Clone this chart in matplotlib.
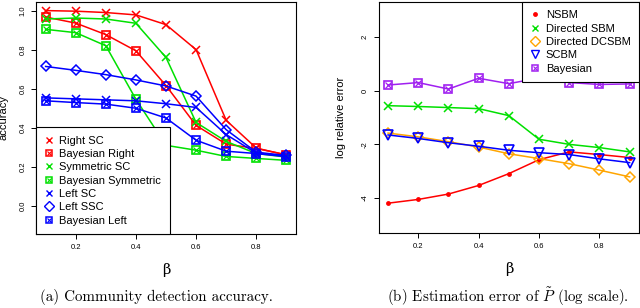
import matplotlib
matplotlib.use("Agg")
import matplotlib.pyplot as plt
from matplotlib.lines import Line2D

plt.rcParams['font.family'] = ['Liberation Sans', 'DejaVu Sans']
plt.rcParams['axes.unicode_minus'] = False
plt.rcParams['mathtext.fontset'] = 'cm'

beta = [0.1, 0.2, 0.3, 0.4, 0.5, 0.6, 0.7, 0.8, 0.9]

# (a) accuracy
right_sc = [1.0, 0.997, 0.99, 0.978, 0.928, 0.80, 0.438, 0.296, 0.26]
bayes_right = [0.967, 0.936, 0.877, 0.794, 0.616, 0.412, 0.316, 0.294, 0.262]
sym_sc = [0.957, 0.962, 0.957, 0.935, 0.76, 0.427, 0.33, 0.268, 0.25]
bayes_sym = [0.904, 0.887, 0.82, 0.546, 0.31, 0.285, 0.253, 0.243, 0.233]
left_sc = [0.553, 0.548, 0.543, 0.538, 0.523, 0.504, 0.365, 0.27, 0.255]
left_ssc = [0.714, 0.694, 0.672, 0.645, 0.614, 0.562, 0.39, 0.275, 0.258]
bayes_left = [0.538, 0.529, 0.521, 0.50, 0.45, 0.336, 0.28, 0.268, 0.252]

# (b) log relative error
nsbm = [-4.19, -4.05, -3.85, -3.53, -3.09, -2.57, -2.28, -2.38, -2.49]
dir_sbm = [-0.56, -0.59, -0.63, -0.67, -0.93, -1.81, -2.0, -2.12, -2.28]
dir_dcsbm = [-1.58, -1.72, -1.90, -2.10, -2.35, -2.53, -2.72, -2.96, -3.21]
scbm = [-1.65, -1.78, -1.94, -2.07, -2.22, -2.31, -2.38, -2.54, -2.68]
bayesian = [0.21, 0.30, 0.06, 0.46, 0.26, 0.47, 0.30, 0.23, 0.25]

RED, GREEN, BLUE = '#ff0000', '#00e000', '#0000ff'
ORANGE, PURPLE = '#ffa500', '#a020f0'
LW = 1.1


def xline(ax, y, c):
    ax.plot(beta, y, color=c, lw=LW, marker='x', ms=6, mew=1.1)
    return Line2D([], [], ls='none', color=c, marker='x', ms=5, mew=1)


def boxx(ax, y, c):
    ax.plot(beta, y, color=c, lw=LW, marker='s', ms=6, mfc='none', mew=1.2)
    ax.plot(beta, y, ls='none', color=c, marker='x', ms=4.2, mew=0.9)
    h1 = Line2D([], [], ls='none', color=c, marker='s', ms=5, mfc='none', mew=1.1)
    h2 = Line2D([], [], ls='none', color=c, marker='x', ms=3.5, mew=0.8)
    return (h1, h2)


def style(ax):
    for s in ax.spines.values():
        s.set_linewidth(0.8)
    ax.tick_params(labelsize=5.5, length=3.5, width=0.7, pad=3.5)
    for t in ax.get_yticklabels():
        t.set_rotation(90)
        t.set_va('center')


def legend(ax, handles, labels, loc):
    leg = ax.legend(handles, labels, loc=loc, borderaxespad=0, fontsize=8,
                    frameon=True, fancybox=False, edgecolor='black', framealpha=1,
                    labelspacing=0.3, handlelength=0.8, handletextpad=0.55,
                    borderpad=0.75)
    leg.get_frame().set_linewidth(0.8)


fig = plt.figure(figsize=(6.4, 3.08), dpi=100)
ax1 = fig.add_axes([0.05625, 0.2403, 0.40625, 0.7532])
ax2 = fig.add_axes([0.5917, 0.2435, 0.4067, 0.75])

handles = [
    xline(ax1, right_sc, RED),
    boxx(ax1, bayes_right, RED),
    xline(ax1, sym_sc, GREEN),
    boxx(ax1, bayes_sym, GREEN),
    xline(ax1, left_sc, BLUE),
]
ax1.plot(beta, left_ssc, color=BLUE, lw=LW, marker='D', ms=5.5, mfc='none', mew=1.1)
handles.append(Line2D([], [], ls='none', color=BLUE, marker='D', ms=5, mfc='none', mew=1))
handles.append(boxx(ax1, bayes_left, BLUE))
labels1 = ['Right SC', 'Bayesian Right', 'Symmetric SC', 'Bayesian Symmetric',
           'Left SC', 'Left SSC', 'Bayesian Left']

ax1.set_xlim(0.068, 0.932)
ax1.set_ylim(-0.144, 1.044)
ax1.set_xticks([0.2, 0.4, 0.6, 0.8])
ax1.set_yticks([0.0, 0.2, 0.4, 0.6, 0.8, 1.0])
style(ax1)
ax1.set_ylabel('accuracy', fontsize=8)
ax1.yaxis.set_label_coords(-0.105, 0.5)
ax1.set_xlabel('β', fontsize=10.5, family='DejaVu Serif')
ax1.xaxis.set_label_coords(0.5, -0.125)
legend(ax1, handles, labels1, 'lower left')

ax2.plot(beta, nsbm, color=RED, lw=LW, marker='o', ms=3.5, mew=0)
ax2.plot(beta, dir_sbm, color=GREEN, lw=LW, marker='x', ms=6, mew=1.1)
ax2.plot(beta, dir_dcsbm, color=ORANGE, lw=LW, marker='D', ms=5.5, mfc='none', mew=1.1)
ax2.plot(beta, scbm, color=BLUE, lw=LW, marker='v', ms=6.5, mfc='none', mew=1.2)
ax2.plot(beta, bayesian, color=PURPLE, lw=LW, marker='s', ms=6, mfc='none', mew=1.2)
ax2.plot(beta, bayesian, ls='none', color=PURPLE, marker='x', ms=4.2, mew=0.9)
handles2 = [
    Line2D([], [], ls='none', color=RED, marker='o', ms=3.5, mew=0),
    Line2D([], [], ls='none', color=GREEN, marker='x', ms=5, mew=1),
    Line2D([], [], ls='none', color=ORANGE, marker='D', ms=5, mfc='none', mew=1),
    Line2D([], [], ls='none', color=BLUE, marker='v', ms=5.5, mfc='none', mew=1),
    (Line2D([], [], ls='none', color=PURPLE, marker='s', ms=5, mfc='none', mew=1.1),
     Line2D([], [], ls='none', color=PURPLE, marker='x', ms=3.5, mew=0.8)),
]
labels2 = ['NSBM', 'Directed SBM', 'Directed DCSBM', 'SCBM', 'Bayesian']

ax2.set_xlim(0.069, 0.931)
ax2.set_ylim(-5.3, 3.3)
ax2.set_xticks([0.2, 0.4, 0.6, 0.8])
ax2.set_yticks([-4, -2, 0, 2])
style(ax2)
ax2.set_ylabel('log relative error', fontsize=8)
ax2.yaxis.set_label_coords(-0.125, 0.5)
ax2.set_xlabel('β', fontsize=10.5, family='DejaVu Serif')
ax2.xaxis.set_label_coords(0.5, -0.125)
legend(ax2, handles2, labels2, 'upper right')

fig.text(0.245, 0.037, '(a) Community detection accuracy.', ha='center', va='center',
         fontsize=10.8, family='cmr10')
fig.text(0.794, 0.037, r'(b) Estimation error of $\tilde{P}$ (log scale).', ha='center',
         va='center', fontsize=10.8, family='cmr10')

fig.savefig('out.png', dpi=100)
